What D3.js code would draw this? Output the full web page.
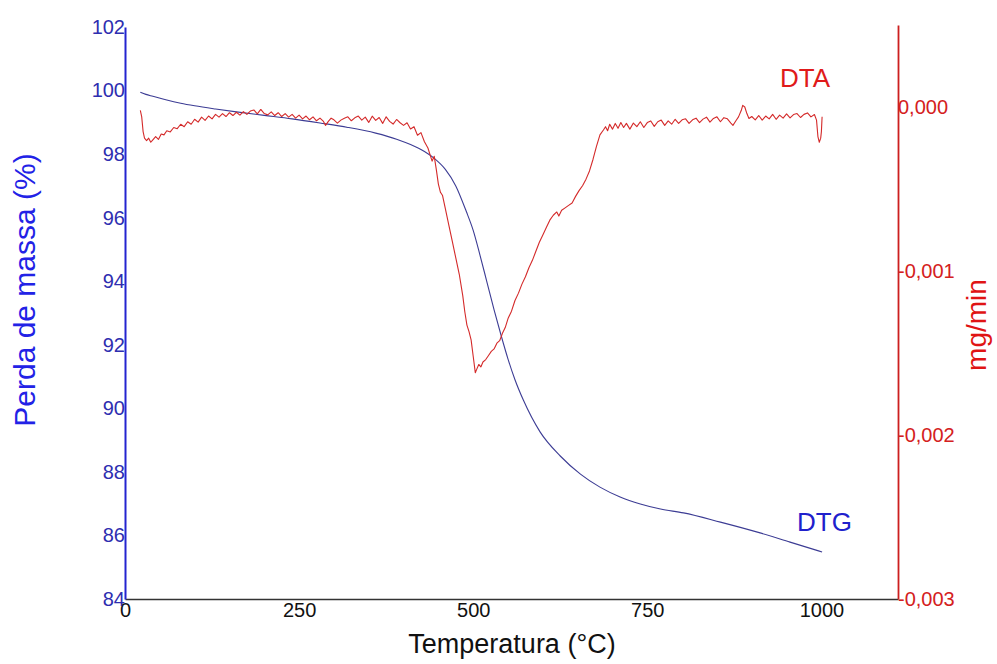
<!DOCTYPE html>
<html>
<head>
<meta charset="utf-8">
<script src="https://cdn.jsdelivr.net/npm/d3@7/dist/d3.min.js"></script>
<style>
  html, body { margin: 0; padding: 0; background: #ffffff; }
  svg { display: block; font-family: "Liberation Sans", Arial, sans-serif; }
</style>
</head>
<body>
<svg id="chart" width="997" height="664"></svg>
<script>
// Thermogravimetric curve (mass, %) against temperature (°C)
const tgTemp = [22, 30, 40, 60, 80, 100, 130, 160, 200, 240, 280, 320, 360, 390, 410, 430, 445, 460, 475, 490, 500, 510, 520, 530, 540, 550, 560, 572, 596, 625, 654, 682, 711, 740, 769, 802, 855, 912, 955, 1001];
const tgMass = [99.95, 99.88, 99.82, 99.70, 99.60, 99.52, 99.42, 99.33, 99.22, 99.11, 98.98, 98.84, 98.66, 98.47, 98.30, 98.08, 97.85, 97.52, 97.00, 96.20, 95.60, 94.80, 93.95, 93.10, 92.30, 91.55, 90.90, 90.26, 89.26, 88.50, 87.93, 87.52, 87.21, 86.99, 86.83, 86.71, 86.42, 86.08, 85.79, 85.48];

// Differential signal (mg/min) against temperature (°C)
const dtaTemp = [22, 24, 26, 28, 31, 34, 37, 40, 44, 48, 52, 56, 60, 65, 70, 75, 80, 85, 90, 95, 100, 105, 110, 115, 120, 125, 130, 135, 140, 145, 150, 155, 160, 165, 170, 175, 180, 185, 190, 195, 200, 205, 210, 215, 220, 225, 230, 235, 240, 245, 250, 255, 260, 265, 270, 275, 280, 285, 288, 292, 296, 300, 305, 310, 315, 320, 325, 330, 335, 340, 345, 350, 355, 360, 365, 370, 375, 380, 385, 390, 395, 400, 405, 410, 415, 420, 425, 430, 435, 438, 441, 444, 447, 450, 453, 456, 460, 465, 470, 475, 480, 485, 488, 491, 494, 497, 500, 503, 505, 508, 511, 514, 518, 522, 526, 530, 534, 538, 542, 546, 550, 555, 560, 565, 570, 575, 580, 585, 590, 595, 600, 605, 610, 615, 620, 623, 627, 632, 637, 642, 647, 652, 657, 662, 667, 672, 677, 682, 687, 690, 693, 696, 700, 704, 708, 712, 716, 720, 725, 730, 735, 740, 745, 750, 755, 760, 765, 770, 775, 780, 785, 790, 795, 800, 805, 810, 815, 820, 825, 830, 835, 840, 845, 850, 855, 860, 865, 870, 873, 877, 881, 885, 887, 890, 893, 896, 900, 905, 910, 915, 920, 925, 930, 935, 940, 945, 950, 955, 960, 965, 970, 975, 980, 985, 990, 993, 995, 997, 999, 1000, 1001];
const dtaSignal = [-0.000020, -0.000060, -0.000150, -0.000190, -0.000205, -0.000190, -0.000215, -0.000200, -0.000180, -0.000198, -0.000165, -0.000170, -0.000145, -0.000152, -0.000125, -0.000132, -0.000105, -0.000120, -0.000090, -0.000105, -0.000075, -0.000092, -0.000062, -0.000082, -0.000055, -0.000072, -0.000045, -0.000062, -0.000040, -0.000058, -0.000035, -0.000052, -0.000032, -0.000050, -0.000028, -0.000045, -0.000025, -0.000018, -0.000042, -0.000015, -0.000040, -0.000048, -0.000030, -0.000052, -0.000035, -0.000058, -0.000040, -0.000062, -0.000045, -0.000068, -0.000050, -0.000072, -0.000055, -0.000078, -0.000060, -0.000084, -0.000068, -0.000088, -0.000112, -0.000088, -0.000068, -0.000078, -0.000098, -0.000080, -0.000068, -0.000060, -0.000084, -0.000066, -0.000055, -0.000080, -0.000062, -0.000094, -0.000056, -0.000082, -0.000064, -0.000100, -0.000060, -0.000088, -0.000104, -0.000076, -0.000096, -0.000112, -0.000096, -0.000134, -0.000120, -0.000172, -0.000156, -0.000212, -0.000250, -0.000290, -0.000330, -0.000300, -0.000380, -0.000470, -0.000520, -0.000540, -0.000620, -0.000720, -0.000820, -0.000920, -0.001020, -0.001150, -0.001250, -0.001330, -0.001370, -0.001420, -0.001520, -0.001620, -0.001600, -0.001570, -0.001585, -0.001555, -0.001540, -0.001515, -0.001490, -0.001475, -0.001440, -0.001425, -0.001380, -0.001345, -0.001290, -0.001245, -0.001180, -0.001135, -0.001080, -0.001035, -0.000980, -0.000935, -0.000880, -0.000825, -0.000780, -0.000735, -0.000690, -0.000660, -0.000640, -0.000665, -0.000630, -0.000615, -0.000600, -0.000585, -0.000545, -0.000510, -0.000480, -0.000440, -0.000390, -0.000320, -0.000240, -0.000170, -0.000140, -0.000120, -0.000145, -0.000105, -0.000135, -0.000100, -0.000130, -0.000095, -0.000125, -0.000100, -0.000135, -0.000098, -0.000120, -0.000090, -0.000125, -0.000095, -0.000085, -0.000118, -0.000090, -0.000080, -0.000112, -0.000085, -0.000105, -0.000075, -0.000100, -0.000078, -0.000072, -0.000100, -0.000078, -0.000068, -0.000095, -0.000074, -0.000062, -0.000092, -0.000070, -0.000060, -0.000090, -0.000065, -0.000072, -0.000098, -0.000112, -0.000085, -0.000060, -0.000020, 0.000010, 0.000000, -0.000040, -0.000070, -0.000058, -0.000078, -0.000052, -0.000080, -0.000055, -0.000072, -0.000045, -0.000075, -0.000050, -0.000068, -0.000042, -0.000066, -0.000046, -0.000040, -0.000064, -0.000045, -0.000036, -0.000060, -0.000046, -0.000080, -0.000180, -0.000215, -0.000190, -0.000150, -0.000060];

// Axis ticks
const tempTicks = [0, 250, 500, 750, 1000];
const massTicks = [84, 86, 88, 90, 92, 94, 96, 98, 100, 102];
const signalTicks = [0, -0.001, -0.002, -0.003];

const svg = d3.select("#chart");

const x = d3.scaleLinear().domain([0, 1110]).range([125, 898]);
const yMass = d3.scaleLinear().domain([84, 102]).range([599, 27]);
const ySignal = d3.scaleLinear().domain([-0.003, 0.0005]).range([599, 25]);

const commaFmt = v => d3.format(".3f")(v).replace(".", ",").replace("\u2212", "-");

// Bottom axis: temperature
const xAxis = svg.append("g")
  .attr("transform", `translate(0,${yMass(84)})`)
  .call(d3.axisBottom(x).tickValues(tempTicks).tickSize(0).tickPadding(4).tickFormat(d3.format("d")));
xAxis.select(".domain").attr("stroke", "#333333").attr("stroke-width", 1.6);
xAxis.selectAll("text").attr("font-size", 20).attr("fill", "#111111").attr("font-family", "Liberation Sans, Arial, sans-serif");

// Left axis: mass
const yAxisL = svg.append("g")
  .attr("transform", `translate(${x(0)},0)`)
  .call(d3.axisLeft(yMass).tickValues(massTicks).tickSize(0).tickPadding(0).tickFormat(d3.format("d")));
yAxisL.select(".domain").attr("stroke", "#2424d0").attr("stroke-width", 2);
yAxisL.selectAll("text").attr("font-size", 20).attr("fill", "#2e2eb0").attr("font-family", "Liberation Sans, Arial, sans-serif");

// Right axis: signal
const yAxisR = svg.append("g")
  .attr("transform", `translate(${x(1110)},0)`)
  .call(d3.axisRight(ySignal).tickValues(signalTicks).tickSize(0).tickPadding(0).tickFormat(commaFmt));
yAxisR.select(".domain").attr("stroke", "#cc1f1f").attr("stroke-width", 1.8);
yAxisR.selectAll("text").attr("font-size", 20).attr("fill", "#d42020").attr("font-family", "Liberation Sans, Arial, sans-serif");

// Curves
const tgLine = d3.line().x((d, i) => x(tgTemp[i])).y(d => yMass(d)).curve(d3.curveMonotoneX);
svg.append("path").datum(tgMass)
  .attr("d", tgLine).attr("fill", "none").attr("stroke", "#3c3c94").attr("stroke-width", 1.1);

const dtaLine = d3.line().x((d, i) => x(dtaTemp[i])).y(d => ySignal(d));
svg.append("path").datum(dtaSignal)
  .attr("d", dtaLine).attr("fill", "none").attr("stroke", "#d42a2a").attr("stroke-width", 1.1)
  .attr("stroke-linejoin", "round");

// Titles
svg.append("text").attr("x", 512).attr("y", 653).attr("text-anchor", "middle")
  .attr("font-size", 27).attr("fill", "#111111").text("Temperatura (°C)");
svg.append("text").attr("transform", "translate(35,290) rotate(-90)").attr("text-anchor", "middle")
  .attr("font-size", 30).attr("fill", "#2222e6").text("Perda de massa (%)");
svg.append("text").attr("transform", "translate(986,325) rotate(-90)").attr("text-anchor", "middle")
  .attr("font-size", 28).attr("fill", "#e01414").text("mg/min");

// Curve labels
svg.append("text").attr("x", 780).attr("y", 87).attr("font-size", 26).attr("fill", "#e01a1a").text("DTA");
svg.append("text").attr("x", 797).attr("y", 531).attr("font-size", 26).attr("fill", "#2020cc").text("DTG");
</script>
</body>
</html>
